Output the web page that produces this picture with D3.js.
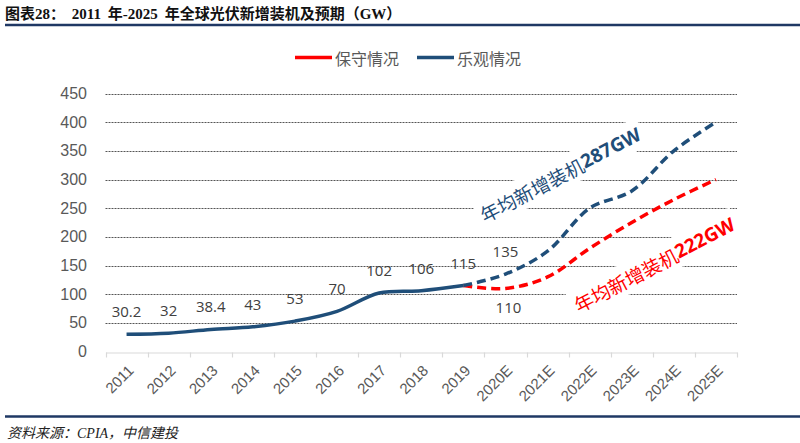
<!DOCTYPE html>
<html>
<head>
<meta charset="utf-8">
<script src="https://cdn.jsdelivr.net/npm/d3@7/dist/d3.min.js"></script>
<style>
  html, body { margin: 0; padding: 0; background: #fff; }
  svg { display: block; }
</style>
</head>
<body>
<svg id="chart" width="800" height="443"></svg>
<script>
// ---------- data ----------
const years = ['2011','2012','2013','2014','2015','2016','2017','2018','2019','2020E','2021E','2022E','2023E','2024E','2025E'];
const actualYears = ['2011','2012','2013','2014','2015','2016','2017','2018','2019'];
const actualValues = [30.2, 32, 38.4, 43, 53, 70, 102, 106, 115];
const forecastYears = ['2019','2020E','2021E','2022E','2023E','2024E','2025E'];
const conservativeValues = [115, 110, 130, 180, 225, 265, 300];
const optimisticValues = [115, 135, 175, 250, 280, 350, 400];
const yTicks = [0, 50, 100, 150, 200, 250, 300, 350, 400, 450];
const seriesNames = ['保守情况', '乐观情况'];
const actualLabels = ['30.2','32','38.4','43','53','70','102','106','115'];
const forecastLabelOpt = {year: '2020E', value: 135, text: '135'};
const forecastLabelCon = {year: '2020E', value: 110, text: '110'};
const annotOpt = ['年均新增装机', '287GW'];
const annotCon = ['年均新增装机', '222GW'];

// ---------- styles ----------
const RED = '#FF0000';
const BLUE = '#1F4E79';
const NAVY = '#1F3864';
const CJK = '"Noto Sans CJK SC", "Noto Sans", sans-serif';

const svg = d3.select('#chart');

// title
const title = svg.append('text').attr('x', 5).attr('y', 19)
  .attr('font-size', 15).attr('font-weight', 'bold').attr('fill', '#111');
[['图表', CJK], ['28', '"Liberation Serif", serif'], ['：  ', CJK], ['2011', '"Liberation Serif", serif'],
 ['  年', CJK], ['-2025', '"Liberation Serif", serif'], ['  年全球光伏新增装机及预期（', CJK],
 ['GW', '"Liberation Serif", serif'], ['）', CJK]].forEach(([t, f]) => {
  title.append('tspan').attr('font-family', f).text(t);
});
title.attr('style', 'white-space: pre');
svg.append('line').attr('x1', 5).attr('x2', 800).attr('y1', 25).attr('y2', 25)
  .attr('stroke', NAVY).attr('stroke-width', 2.5);

// footer
svg.append('line').attr('x1', 5).attr('x2', 800).attr('y1', 416.5).attr('y2', 416.5)
  .attr('stroke', NAVY).attr('stroke-width', 2.5);
const foot = svg.append('text').attr('x', 7).attr('y', 438)
  .attr('font-size', 14).attr('font-style', 'italic').attr('fill', '#222');
[['资料来源：', CJK], ['CPIA', '"Liberation Serif", serif'], ['，中信建投', CJK]].forEach(([t, f]) => {
  foot.append('tspan').attr('font-family', f).text(t);
});

// scales
const x = d3.scaleBand().domain(years).range([105.5, 737]).paddingInner(0).paddingOuter(0);
const cx = d => x(d) + x.bandwidth() / 2;
const y = d3.scaleLinear().domain([0, 450]).range([351.5, 93.5]);

// gridlines
svg.append('g').selectAll('line').data(yTicks.filter(v => v > 0)).join('line')
  .attr('x1', 105.5).attr('x2', 737)
  .attr('y1', d => Math.round(y(d)) + 0.5).attr('y2', d => Math.round(y(d)) + 0.5)
  .attr('stroke', '#555').attr('stroke-width', 1).attr('stroke-dasharray', '2,1');

// y axis
const yAxis = svg.append('g').attr('transform', 'translate(87,0)')
  .call(d3.axisLeft(y).tickValues(yTicks).tickSize(0).tickPadding(0));
yAxis.select('.domain').remove();
yAxis.selectAll('text').attr('font-family', '"Liberation Sans", Arial, sans-serif')
  .attr('font-size', 16).attr('fill', '#595959');

// x axis
const axisY = Math.round(y(0)) + 0.5;
const xAxis = svg.append('g').attr('transform', `translate(0,${axisY})`)
  .call(d3.axisBottom(x).tickSize(0).tickPadding(0));
xAxis.select('.domain').attr('stroke', '#D9D9D9').attr('stroke-width', 1.2);
xAxis.selectAll('text')
  .attr('font-family', '"Liberation Sans", Arial, sans-serif')
  .attr('font-size', 15).attr('fill', '#595959')
  .attr('text-anchor', 'end').attr('y', 0).attr('dy', 0)
  .attr('transform', 'translate(8,19) rotate(-45)');
// tick marks at band boundaries
const bounds = years.map(d => x(d)).concat([x(years[years.length - 1]) + x.bandwidth()]);
svg.append('g').selectAll('line').data(bounds).join('line')
  .attr('x1', d => Math.round(d) + 0.5).attr('x2', d => Math.round(d) + 0.5)
  .attr('y1', axisY).attr('y2', axisY + 5)
  .attr('stroke', '#D9D9D9').attr('stroke-width', 1.2);

// annotations with white boxes
function annot(parts, color, px, py, angle) {
  const g = svg.append('g').attr('transform', `translate(${px},${py}) rotate(${angle})`);
  const t = g.append('text').attr('text-anchor', 'middle').attr('dominant-baseline', 'central')
    .attr('font-size', 19).attr('fill', color).attr('font-family', CJK);
  t.append('tspan').text(parts[0]);
  t.append('tspan').attr('font-weight', 'bold').attr('font-family', '"Open Sans", sans-serif').text(parts[1]);
  const b = t.node().getBBox();
  g.insert('rect', 'text').attr('x', b.x - 3).attr('y', b.y - 2).attr('width', b.width + 6).attr('height', b.height + 4)
    .attr('fill', '#fff');
}
annot(annotOpt, BLUE, 560, 174, -27.5);
annot(annotCon, RED, 654, 264, -27.5);

// lines
const line = d3.line().x(d => cx(d[0])).y(d => y(d[1])).curve(d3.curveCatmullRom.alpha(0.5));
svg.append('path').datum(forecastYears.map((d, i) => [d, conservativeValues[i]]))
  .attr('d', line).attr('fill', 'none').attr('stroke', RED).attr('stroke-width', 3.5)
  .attr('stroke-dasharray', '9,5');
svg.append('path').datum(forecastYears.map((d, i) => [d, optimisticValues[i]]))
  .attr('d', line).attr('fill', 'none').attr('stroke', BLUE).attr('stroke-width', 3.5)
  .attr('stroke-dasharray', '9,5');
svg.append('path').datum(actualYears.map((d, i) => [d, actualValues[i]]))
  .attr('d', line).attr('fill', 'none').attr('stroke', BLUE).attr('stroke-width', 3.5)
  .attr('stroke-linecap', 'butt');

// data labels
const labelFont = '"Open Sans", sans-serif';
svg.append('g').selectAll('text').data(actualYears).join('text')
  .attr('x', d => cx(d)).attr('y', (d, i) => y(actualValues[i]) - 17)
  .attr('text-anchor', 'middle').attr('font-family', labelFont).attr('font-size', 15).attr('fill', '#404040')
  .text((d, i) => actualLabels[i]);
svg.append('text').attr('x', cx(forecastLabelOpt.year)).attr('y', y(forecastLabelOpt.value) - 17)
  .attr('text-anchor', 'middle').attr('font-family', labelFont).attr('font-size', 15).attr('fill', '#404040')
  .text(forecastLabelOpt.text);
svg.append('text').attr('x', cx(forecastLabelCon.year) + 3).attr('y', y(forecastLabelCon.value) + 25)
  .attr('text-anchor', 'middle').attr('font-family', labelFont).attr('font-size', 15).attr('fill', '#404040')
  .text(forecastLabelCon.text);

// legend
const legend = svg.append('g');
const legItems = [{name: seriesNames[0], color: RED, x: 295}, {name: seriesNames[1], color: BLUE, x: 417}];
legItems.forEach(it => {
  legend.append('line').attr('x1', it.x).attr('x2', it.x + 37).attr('y1', 57.5).attr('y2', 57.5)
    .attr('stroke', it.color).attr('stroke-width', 3.5);
  legend.append('text').attr('x', it.x + 40).attr('y', 57.5).attr('dominant-baseline', 'central')
    .attr('font-family', CJK).attr('font-size', 16).attr('fill', '#595959').text(it.name);
});
</script>
</body>
</html>
